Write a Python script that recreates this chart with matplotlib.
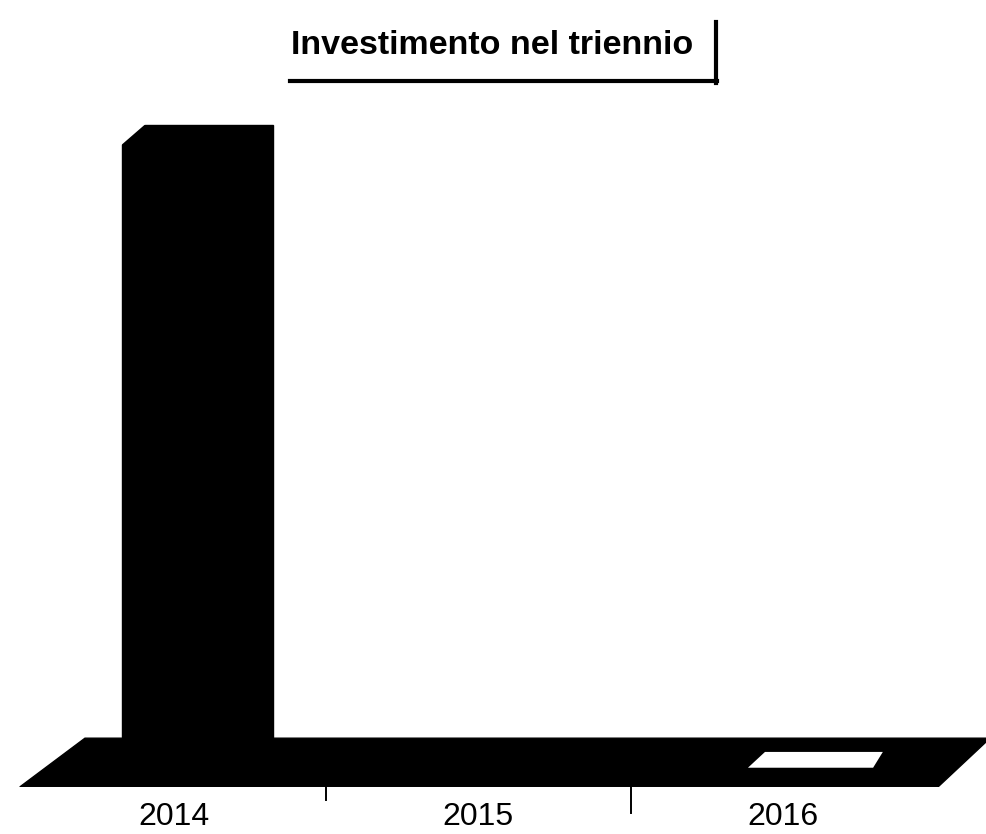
import matplotlib
matplotlib.use("Agg")
import matplotlib.pyplot as plt
from matplotlib.patches import Polygon

# ---- data ----
categories = ["2014", "2015", "2016"]
values = [96.4, 0.0, 0.0]
title = "Investimento nel triennio"

fig = plt.figure(figsize=(9.87, 8.34), dpi=100)
ax = fig.add_axes([0.0, 0.0564, 1.0, 0.8237])
ax.set_xlim(-0.571, 2.67)
ax.set_ylim(0, 100)
for s in ax.spines.values():
    s.set_visible(False)
ax.set_yticks([])

x = list(range(len(categories)))
bar_off = 0.077
bar_w = 0.496

# floor (3D-style base)
floor_h = 7.1
floor = Polygon([(-0.506, 0), (-0.292, floor_h), (2.68, floor_h), (2.509, 0)],
                closed=True, facecolor="black", edgecolor="black", lw=1, zorder=1)
ax.add_patch(floor)

bars = ax.bar([xi + bar_off for xi in x], values, width=bar_w,
              color="black", edgecolor="black", zorder=2)

# chamfered top-left corner of the tall bar
for b, v in zip(bars, values):
    if v > floor_h:
        l = b.get_x()
        t = v
        ax.add_patch(Polygon([(l - 0.01, t - 3.3), (l - 0.01, t + 0.5), (l + 0.09, t + 0.5)],
                             closed=True, facecolor="white", edgecolor="none", zorder=3))

# light top face of the 2016 (near zero) bar on the floor
c16 = x[2] + 0.11
ax.add_patch(Polygon([(c16 - 0.225, 2.8), (c16 - 0.169, 5.1), (c16 + 0.218, 5.1), (c16 + 0.186, 2.8)],
                     closed=True, facecolor="white", edgecolor="none", zorder=3))

# category labels
ax.set_xticks(x)
ax.set_xticklabels(categories, fontfamily="Liberation Sans", fontsize=23)
ax.tick_params(axis="x", length=0, pad=10.5)

# category separators
ax.plot([0.5, 0.5], [0, -1.9], color="black", lw=1.4, clip_on=False)
ax.plot([1.5, 1.5], [0, -3.8], color="black", lw=1.4, clip_on=False)

# title with underline and right bar
fig.text(0.4985, 1 - 46 / 834, title, ha="center", va="center",
         fontfamily="Liberation Sans", fontweight="bold", fontsize=24.5)
fig.add_artist(plt.Line2D([290 / 987, 717 / 987], [1 - 81 / 834, 1 - 81 / 834],
                          color="black", lw=3))
fig.add_artist(plt.Line2D([716 / 987, 716 / 987], [1 - 22 / 834, 1 - 83 / 834],
                          color="black", lw=3))

fig.savefig("out.png", dpi=100, facecolor="white")
